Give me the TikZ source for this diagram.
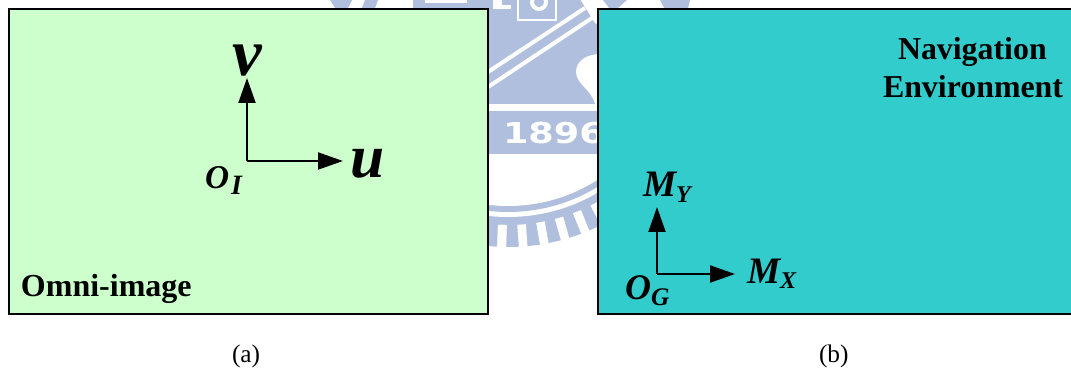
\documentclass[tikz,border=0pt]{standalone}
\usepackage{fontspec}
\setmainfont{Liberation Serif}
\newfontfamily\wmfont{DejaVu Sans}
\usetikzlibrary{arrows.meta}
\definecolor{wm}{HTML}{B0BFDD}
\definecolor{panelgreen}{HTML}{CCFFCC}
\definecolor{panelteal}{HTML}{33CCCC}
\newcommand{\fsz}[1]{\fontsize{#1}{#1}\selectfont}
\tikzset{
  panel/.style={draw=black,line width=1.5pt,inner sep=0pt,outer sep=0pt,anchor=north west},
  axis/.style={draw=black,line width=1.5pt,-{Triangle[length=18.75pt,width=12.75pt]},shorten >=0pt,shorten <=0pt},
  lab/.style={inner sep=0pt,outer sep=0pt,anchor=base west},
  wmw/.style={fill=white,draw=none},
  wmb/.style={fill=wm,draw=none}
}
\begin{document}
\begin{tikzpicture}[x=0.75pt,y=-0.75pt]
\useasboundingbox (0,0) rectangle (1071,370);
% watermark seal
\begin{scope}
\clip (0,0) rectangle (1071,370);
\fill[wm] (508,40) circle[radius=207];
\foreach \a in {-1.7,4.2,...,360}{
  \draw[white,line width=6.5pt] (508,40) ++({90-\a}:185) -- ++({90-\a}:24);
}
\fill[white] (508,40) circle[radius=177];
\fill[wm] (508,40) circle[radius=172];
\fill[white] (508,40) circle[radius=166];
\fill[wmw] (0,-1) rectangle (413,9);
\fill[wmw] (597,-1) rectangle (1071,9);
\fill[wmb] (413,0) rectangle (600,104);
\fill[wmb] (489,111) rectangle (600,154);
\fill[wmb] (330,0) -- (352,0) -- (348,8) -- (335,8) -- cycle;
\fill[wmb] (365,0) -- (378,0) -- (375,8) -- (362,8) -- cycle;
\fill[wmb] (603,0) -- (627,0) -- (618,8) -- (609,8) -- cycle;
\fill[wmb] (660,0) -- (690,0) -- (688,8) -- (664,8) -- cycle;
\fill[wmw] (425,-1) rectangle (467,3);
% L mark
\fill[wmw] (493,-1) rectangle (502,9);
\fill[wmw] (493,5) rectangle (511,9);
% square with ring
\draw[white,line width=1.5pt] (518,-2) rectangle (556,20);
\draw[white,line width=3pt] (539,2) circle[radius=7];
% diagonal stripes
\draw[white,line width=3pt] (488,72) -- (585,8);
\draw[white,line width=3pt] (488,87) -- (592,18);
\fill[wmw] (580,-1) -- (595,23) -- (601,26) -- (601,-1) -- cycle;
% blob
\fill[wmw] (601,54) .. controls (585,54) and (576,62) .. (576,72)
  .. controls (576,84) and (592,90) .. (595,104) -- (601,104) -- cycle;
\node[lab,text=white,xscale=1.27] (year) at (503,144) {\wmfont\bfseries\fsz{21.6}1896};
\end{scope}
% panels
\node[panel,fill=panelgreen,minimum width=359.25pt,minimum height=229pt] (omni) at (9,9) {};
\node[panel,fill=panelteal,minimum width=360pt,minimum height=229pt] (env) at (598,9) {};
% left axes
\coordinate (oi) at (247,161);
\coordinate (vtip) at (247,78);
\coordinate (utip) at (343,161);
\draw[axis] (oi) -- (vtip);
\draw[axis] (oi) -- (utip);
\node[lab] (v) at (232,75.5) {\fsz{50}\bfseries\itshape v};
\node[lab] (u) at (350,178) {\fsz{46}\bfseries\itshape u};
\node[lab] (olabel) at (205,189) {\bfseries\itshape\fsz{25}O\kern1.5pt\raisebox{-4.5pt}{\fsz{21}I}};
% right axes
\coordinate (og) at (657,274);
\coordinate (mytip) at (657,207);
\coordinate (mxtip) at (735,274);
\draw[axis] (og) -- (mytip);
\draw[axis] (og) -- (mxtip);
\node[lab] (my) at (643,196.5) {\bfseries\itshape\fsz{28}M\raisebox{-4.5pt}{\fsz{18}Y}};
\node[lab] (mx) at (747,283.5) {\bfseries\itshape\fsz{28}M\raisebox{-4pt}{\fsz{18}X}};
\node[lab] (ogl) at (625,300) {\bfseries\itshape\fsz{27}O\raisebox{-4.5pt}{\fsz{19}G}};
% captions
\node[lab] (omnit) at (21,296.5) {\bfseries\fsz{24}Omni-image};
\node[lab] (nav) at (898,59.5) {\bfseries\fsz{23.9}Navigation};
\node[lab] (envt) at (883,97.5) {\bfseries\fsz{23.9}Environment};
\node[lab] (capa) at (232,363) {\fsz{19}(a)};
\node[lab] (capb) at (819,363) {\fsz{19}(b)};
\end{tikzpicture}
\end{document}
